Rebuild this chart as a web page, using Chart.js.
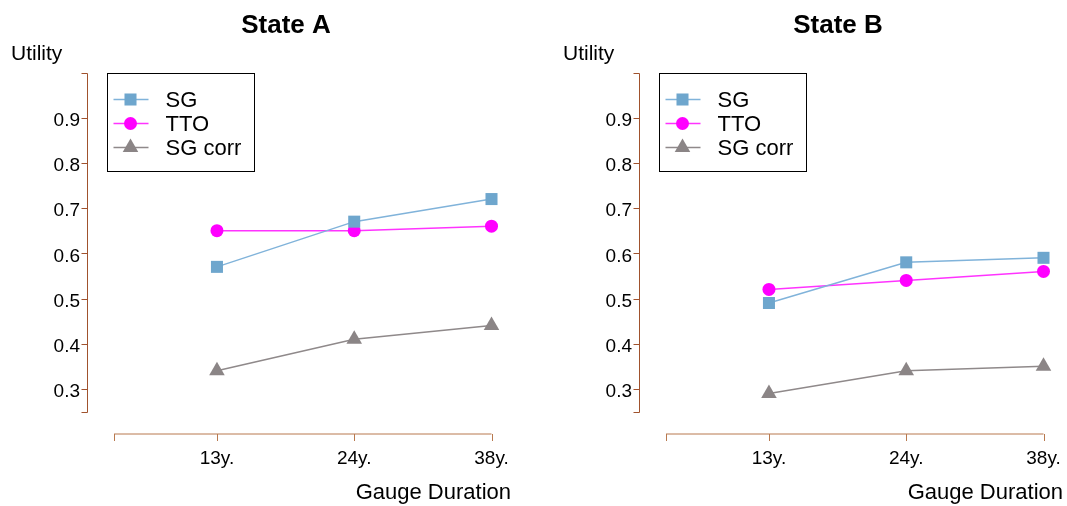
<!DOCTYPE html>
<html>
<head>
<meta charset="utf-8">
<script src="https://cdn.jsdelivr.net/npm/chart.js@4/dist/chart.umd.min.js"></script>
<style>
  body { margin: 0; background: #fff; }
  #wrap { position: relative; width: 1067px; height: 506px; overflow: hidden; }
  canvas { position: absolute; top: 0; }
</style>
</head>
<body>
<div id="wrap">
  <canvas id="chartA" width="572" height="506" style="left:0"></canvas>
  <canvas id="chartB" width="572" height="506" style="left:552px"></canvas>
</div>
<script>
// categories and values
const categories = ['13y.', '24y.', '38y.'];
const categoryPos = [1, 2, 3];
const seriesNames = ['SG', 'TTO', 'SG corr'];

const stateA_SG = [0.57, 0.67, 0.72];
const stateA_TTO = [0.65, 0.65, 0.66];
const stateA_SGcorr = [0.34, 0.41, 0.44];

const stateB_SG = [0.49, 0.58, 0.59];
const stateB_TTO = [0.52, 0.54, 0.56];
const stateB_SGcorr = [0.29, 0.34, 0.35];

const yTicks = [0.25, 0.3, 0.4, 0.5, 0.6, 0.7, 0.8, 0.9, 1.0];
const yLabelled = [0.3, 0.4, 0.5, 0.6, 0.7, 0.8, 0.9];
const xTicks = [0.25, 1, 2, 3];

const FONT = '"Liberation Sans", Arial, Helvetica, sans-serif';
const AXIS_COLOR = '#a0522d';

const styles = [
  { color: '#6ea6cd', line: '#80b3da', pointStyle: 'rect', radius: 8.5 },
  { color: '#ff00ff', line: '#ff33ff', pointStyle: 'circle', radius: 6.5 },
  { color: '#8b8586', line: '#8f898a', pointStyle: 'triangle', radius: 9 }
];

function toPoints(vals) {
  return vals.map((v, i) => ({ x: categoryPos[i], y: v }));
}

function drawMarker(ctx, style, x, y) {
  const r = style.radius;
  ctx.fillStyle = style.color;
  ctx.beginPath();
  if (style.pointStyle === 'rect') {
    const s = Math.SQRT1_2 * r;
    ctx.rect(x - s, y - s, 2 * s, 2 * s);
  } else if (style.pointStyle === 'circle') {
    ctx.arc(x, y, r, 0, Math.PI * 2);
  } else {
    ctx.moveTo(x, y - r);
    ctx.lineTo(x + r * Math.sin(Math.PI * 2 / 3), y - r * Math.cos(Math.PI * 2 / 3));
    ctx.lineTo(x + r * Math.sin(Math.PI * 4 / 3), y - r * Math.cos(Math.PI * 4 / 3));
    ctx.closePath();
  }
  ctx.fill();
}

// axes are detached from the plot area, so they get drawn here
const decor = {
  id: 'decor',
  afterDraw(chart, args, opts) {
    const ctx = chart.ctx;
    const a = chart.chartArea;
    const xs = chart.scales.x, ys = chart.scales.y;
    ctx.save();

    // y axis
    ctx.strokeStyle = AXIS_COLOR;
    ctx.lineWidth = 1;
    const ax = Math.round(a.left - 27) + 0.5;
    ctx.beginPath();
    ctx.moveTo(ax, Math.round(ys.getPixelForValue(ys.max)) + 0.5);
    ctx.lineTo(ax, Math.round(ys.getPixelForValue(ys.min)) + 0.5);
    ys.ticks.forEach(t => {
      const p = Math.round(ys.getPixelForValue(t.value)) + 0.5;
      ctx.moveTo(ax, p);
      ctx.lineTo(ax - 6, p);
    });
    ctx.stroke();

    // x axis
    ctx.strokeStyle = '#b8794f';
    const ay = Math.round(a.bottom + 22);
    ctx.beginPath();
    ctx.moveTo(xs.getPixelForValue(xs.min), ay);
    ctx.lineTo(xs.getPixelForValue(xs.max), ay);
    xs.ticks.forEach(t => {
      const p = Math.round(xs.getPixelForValue(t.value)) + 0.5;
      ctx.moveTo(p, ay);
      ctx.lineTo(p, ay + 7);
    });
    ctx.stroke();

    // titles
    ctx.fillStyle = '#000';
    ctx.textBaseline = 'alphabetic';
    ctx.font = 'bold 26px ' + FONT;
    ctx.textAlign = 'center';
    ctx.fillText(opts.title, 286, 33);
    ctx.font = '21px ' + FONT;
    ctx.textAlign = 'left';
    ctx.fillText('Utility', 11, 60);
    ctx.font = '22px ' + FONT;
    ctx.textAlign = 'right';
    ctx.fillText('Gauge Duration', a.right + 19.5, 499);

    // legend
    const lx = Math.round(a.left - 7) + 0.5, ly = Math.round(a.top) + 0.5;
    ctx.strokeStyle = '#000';
    ctx.lineWidth = 1;
    ctx.strokeRect(lx, ly, 147, 98);
    ctx.font = '22px ' + FONT;
    ctx.textAlign = 'left';
    ctx.textBaseline = 'middle';
    chart.data.datasets.forEach((ds, i) => {
      const st = styles[i];
      const y = ly + 26 + i * 24;
      ctx.strokeStyle = st.line;
      ctx.lineWidth = 1.5;
      ctx.beginPath();
      ctx.moveTo(lx + 6, y);
      ctx.lineTo(lx + 41, y);
      ctx.stroke();
      drawMarker(ctx, st, lx + 23, y);
      ctx.fillStyle = '#000';
      ctx.fillText(ds.label, lx + 58, y + 1);
    });
    ctx.restore();
  }
};

function makeChart(id, title, sg, tto, sgcorr) {
  const W = document.getElementById(id).width;
  const values = [sg, tto, sgcorr];
  return new Chart(document.getElementById(id), {
    type: 'line',
    data: {
      datasets: values.map((vals, i) => ({
        label: seriesNames[i],
        data: toPoints(vals),
        borderColor: styles[i].line,
        backgroundColor: styles[i].color,
        pointBackgroundColor: styles[i].color,
        pointBorderWidth: 0,
        pointStyle: styles[i].pointStyle,
        pointRadius: styles[i].radius,
        borderWidth: 1.5,
        tension: 0,
        fill: false,
        clip: false
      }))
    },
    options: {
      responsive: false,
      animation: false,
      devicePixelRatio: 1,
      layout: { padding: { left: 0, top: 72.5, right: W - 491.5, bottom: 0 } },
      plugins: {
        legend: { display: false },
        tooltip: { enabled: false },
        title: { display: false },
        decor: { title: title }
      },
      scales: {
        x: {
          type: 'linear',
          min: 0.25,
          max: 3,
          afterBuildTicks: s => { s.ticks = xTicks.map(v => ({ value: v })); },
          afterFit: s => { s.height = 506 - 411.5; },
          grid: { display: false, drawTicks: false },
          border: { display: false },
          ticks: {
            color: '#000',
            font: { family: FONT, size: 19 },
            padding: 36,
            maxRotation: 0,
            autoSkip: false,
            callback: v => {
              const i = categoryPos.indexOf(v);
              return i >= 0 ? categories[i] : '';
            }
          }
        },
        y: {
          min: 0.25,
          max: 1.0,
          afterBuildTicks: s => { s.ticks = yTicks.map(v => ({ value: v })); },
          afterFit: s => { s.width = 114; },
          grid: { display: false, drawTicks: false },
          border: { display: false },
          ticks: {
            color: '#000',
            font: { family: FONT, size: 19 },
            padding: 34,
            labelOffset: 3,
            autoSkip: false,
            callback: v => yLabelled.some(t => Math.abs(t - v) < 1e-9) ? v.toFixed(1) : ''
          }
        }
      }
    },
    plugins: [decor]
  });
}

makeChart('chartA', 'State A', stateA_SG, stateA_TTO, stateA_SGcorr);
makeChart('chartB', 'State B', stateB_SG, stateB_TTO, stateB_SGcorr);
</script>
</body>
</html>
